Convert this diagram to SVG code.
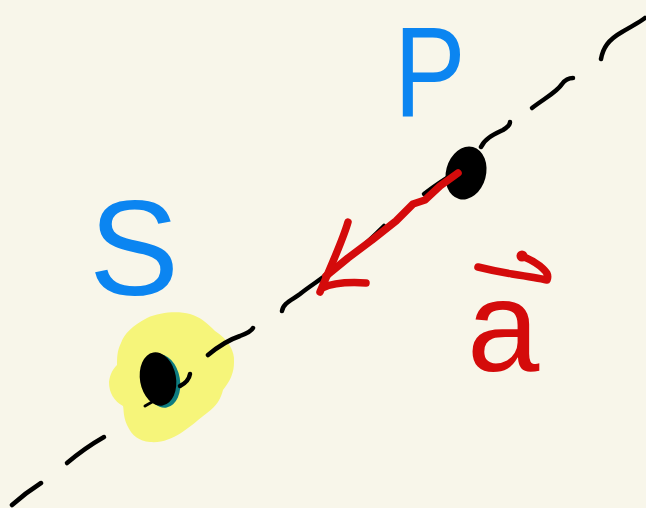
<svg xmlns="http://www.w3.org/2000/svg" width="646" height="508" viewBox="0 0 646 508">
  <style>
    .dash { fill: none; stroke: #000; stroke-width: 4.5; stroke-linecap: round; stroke-linejoin: round; }
    .red { fill: none; stroke: #d40b0b; stroke-width: 7.5; stroke-linecap: round; stroke-linejoin: round; }
    .blue { font-family: "Liberation Sans", Arial, sans-serif; fill: #0b85f1; }
    .redtxt { font-family: "Liberation Sans", Arial, sans-serif; fill: #d40b0b; }
  </style>
  <rect x="0" y="0" width="646" height="508" fill="#f8f6ea"/>

  <g id="S">
    <path d="M147,318 C160,312 178,311 190,314 C200,317 206,322 215,331 C228,339 235,351 234,362 C234,372 231,380 223,390 C221,398 217,406 207,413 C199,419 193,425 181,433 C171,439 162,443 150,442 C139,441 132,436 127,425 C123,416 124,410 123,406 C114,401 109,393 109,382 C110,374 113,369 117,365 C117,354 118,349 121,343 C124,334 132,326 147,318 Z" fill="#f6f57a"/>
    <ellipse cx="162" cy="381" rx="18" ry="27" fill="#0e7c80" transform="rotate(-10 162 381)"/>
    <ellipse cx="158" cy="379" rx="18" ry="27" fill="#000" transform="rotate(-10 158 379)"/>
    <path class="dash" d="M180,386 C186,383 189,380 190,374"/>
    <path class="dash" d="M145,406 L152,402" style="stroke-width:3"/>
    <text class="blue" x="89" y="295" font-size="135">S</text>
  </g>

  <g id="P">
    <ellipse cx="466" cy="173" rx="20" ry="27" fill="#000" transform="rotate(15 466 173)"/>
    <text class="blue" transform="translate(394,116) scale(0.84,1)" x="0" y="0" font-size="128">P</text>
  </g>

  <g id="connectors">
    <path class="dash" d="M601,59 C603,48 608,40 622,32 C632,26 640,22 645,18"/>
    <path class="dash" d="M532,108 C545,98 557,92 562,84 C565,80 569,78 573,78"/>
    <path class="dash" d="M481,147 C485,138 495,134 503,130 C508,127 510,125 510,122"/>
    <path class="dash" d="M424,194 C432,188 440,182 452,175"/>
    <path class="dash" d="M282,311 C283,303 292,300 300,294 C310,286 320,280 330,272 C345,262 365,245 384,226"/>
    <path class="dash" d="M208,355 C220,345 228,340 240,336 C248,333 252,330 253,328"/>
    <path class="dash" d="M67,463 C80,452 90,445 104,437"/>
    <path class="dash" d="M12,505 C22,496 30,490 41,483"/>
    <path class="red" d="M458,173 L440,186 L425,200 L413,204 L396,221 L372,240 L348,258 L326,276"/>
    <path class="red" d="M348,222 C343,240 330,268 320,292 M322,288 C335,282 350,282 366,283"/>
  </g>

  <g id="vector-a">
    <path class="red" d="M478,267 C490,270 500,272 512,274 C525,276 538,278 547,280 C549,275 547,272 540,266 C533,261 528,258 521,256"/>
    <circle cx="522" cy="256" r="5.5" fill="#d40b0b"/>
    <text class="redtxt" x="467" y="371" font-size="130">a</text>
  </g>
</svg>
